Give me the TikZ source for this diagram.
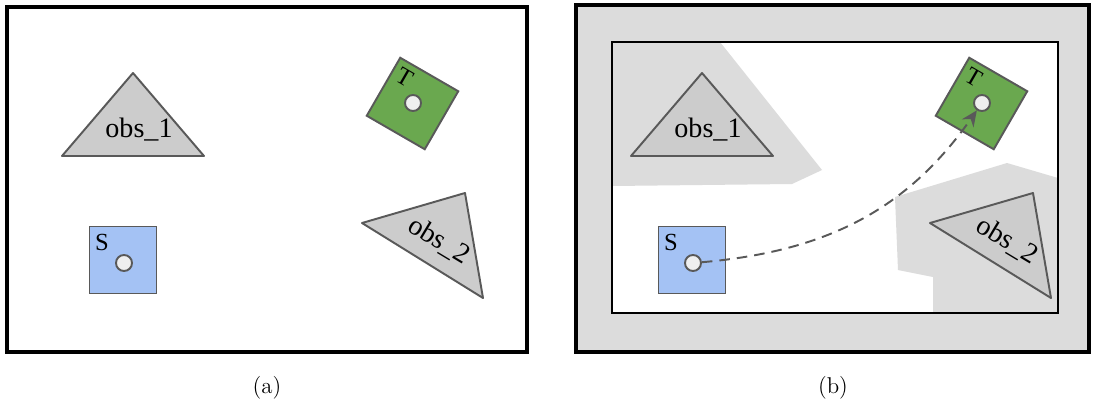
\documentclass[tikz,border=0pt]{standalone}
\usepackage{fontspec}
\newfontfamily\labelfont{Liberation Serif}
\usetikzlibrary{arrows.meta, positioning}

\definecolor{goalgreen}{HTML}{6AA84F}
\definecolor{startblue}{HTML}{A4C2F4}
\definecolor{obsgray}{HTML}{CCCCCC}
\definecolor{edgegray}{HTML}{595959}
\definecolor{padgray}{HTML}{DCDCDC}
\definecolor{dotwhite}{HTML}{EFEFEF}

\begin{document}
\begin{tikzpicture}[
    x=0.02cm,
    y=-0.02cm,
    cell/.style={
        draw=edgegray,
        line width=1.1pt,
        minimum size=1.34cm,
        inner sep=0pt
    },
    start/.style={
        cell,
        fill=startblue
    },
    goal/.style={
        cell,
        fill=goalgreen,
        rotate=-30
    },
    dot/.style={
        circle,
        draw=edgegray,
        fill=dotwhite,
        line width=1.1pt,
        minimum size=0.32cm,
        inner sep=0pt
    },
    obstacle/.style={
        draw=edgegray,
        fill=obsgray,
        line width=1.1pt,
        line join=round
    },
    tag/.style={
        font=\labelfont\fontsize{16}{16}\selectfont,
        inner sep=0pt
    },
    letter/.style={
        font=\labelfont\fontsize{14}{14}\selectfont,
        inner sep=0pt
    },
    frame/.style={
        draw=black,
        line width=1.8pt
    },
    route/.style={
        draw=edgegray,
        line width=1.1pt,
        dash pattern=on 6pt off 4pt,
        -{Stealth[length=9pt,width=8pt]}
    }
]
\useasboundingbox (0,0) rectangle (1093,406);

% (a) the bare map
\draw[frame] (7,7) rectangle (527,352);
\draw[obstacle] (133,73) -- (204,156) -- (62,156) -- cycle;
\node[tag] (obsa1) at (139,130) {obs\_1};
\draw[obstacle] (362,223) -- (465,193) -- (483,298) -- cycle;
\node[tag, rotate=-31] (obsa2) at (439,241) {obs\_2};
\node[start] (starta) at (123,260) {};
\node[dot] (sa) at (124,263) {};
\node[letter] (labsa) at (102,242) {S};
\node[goal] (goala) at (412.5,103.5) {};
\node[dot] (ta) at (413,103) {};
\node[letter, rotate=-30] (labta) at (405,77) {T};
\node[font=\fontsize{13}{13}\selectfont] (capa) at (267,388) {(a)};

% (b) the map with padded obstacles and the route
\fill[padgray] (576,5) rectangle (1089,352);
\fill[white] (612,42) rectangle (1058,313);
\fill[padgray] (612,42) -- (720,42) -- (822,170) -- (792,184) -- (612,186) -- cycle;
\fill[padgray] (895,197) -- (1007,163) -- (1058,178) -- (1058,313)
    -- (933,313) -- (933,277) -- (898,270) -- cycle;
\draw[black, line width=1pt] (612,42) rectangle (1058,313);
\draw[frame] (576,5) rectangle (1089,352);
\draw[obstacle] (702,73) -- (773,156) -- (631,156) -- cycle;
\node[tag] (obsb1) at (708,130) {obs\_1};
\draw[obstacle] (930,223) -- (1033,193) -- (1051,298) -- cycle;
\node[tag, rotate=-31] (obsb2) at (1007,241) {obs\_2};
\node[start] (startb) at (692,260) {};
\node[dot] (sb) at (693,263) {};
\node[letter] (labsb) at (671,242) {S};
\node[goal] (goalb) at (981.5,103.5) {};
\node[dot] (tb) at (982,103) {};
\node[letter, rotate=-30] (labtb) at (974,77) {T};
\node[font=\fontsize{13}{13}\selectfont] (capb) at (833,388) {(b)};

% Path
\draw[route] (sb) to[out=5, in=235] (tb);

\end{tikzpicture}
\end{document}
